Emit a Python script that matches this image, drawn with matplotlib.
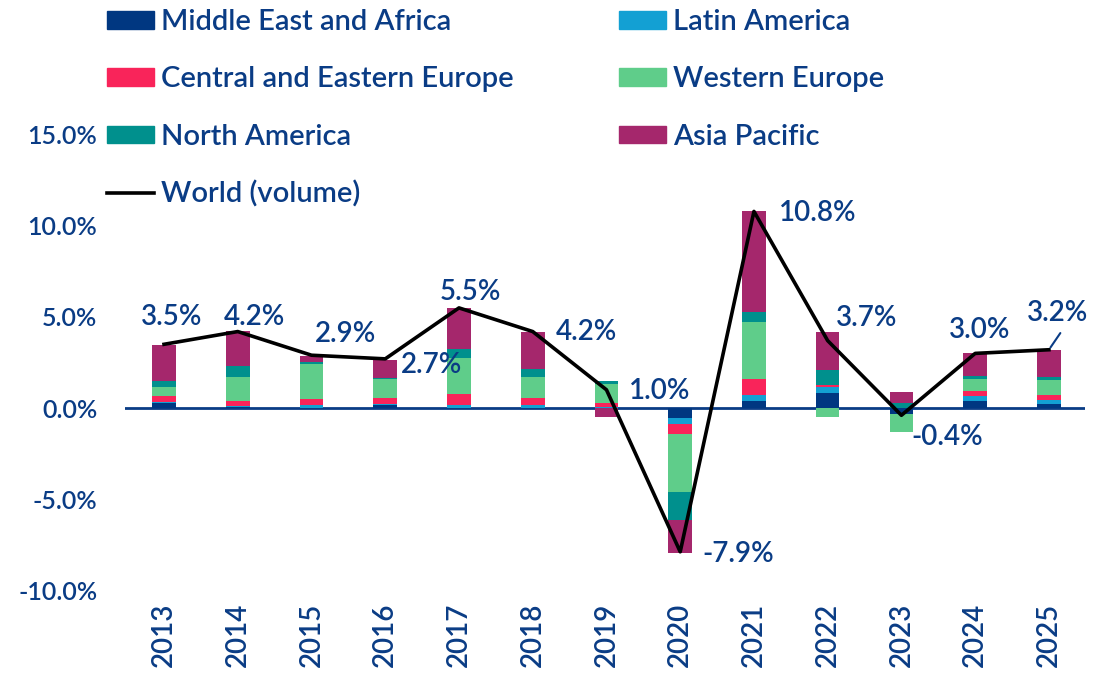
import matplotlib.pyplot as plt
import numpy as np
from matplotlib.patches import Patch
from matplotlib.lines import Line2D

years = ['2013', '2014', '2015', '2016', '2017', '2018', '2019',
         '2020', '2021', '2022', '2023', '2024', '2025']

# contributions to world growth, pp
mea   = [0.29, 0.05, 0.00, 0.18, 0.00, 0.00, 0.00, -0.53, 0.37, 0.82, -0.35, 0.37, 0.24]
latam = [0.05, 0.05, 0.15, 0.05, 0.15, 0.15, 0.03, -0.37, 0.35, 0.33, 0.00, 0.27, 0.22]
cee   = [0.31, 0.27, 0.35, 0.33, 0.62, 0.42, 0.27, -0.55, 0.88, 0.11, 0.00, 0.31, 0.26]
weu   = [0.48, 1.36, 1.94, 1.04, 2.00, 1.15, 1.00, -3.17, 3.10, -0.49, -0.95, 0.66, 0.84]
nam   = [0.35, 0.60, 0.11, 0.05, 0.46, 0.40, 0.18, -1.56, 0.60, 0.84, 0.25, 0.13, 0.13]
apac  = [1.98, 1.89, 0.31, 1.00, 2.29, 2.07, -0.49, -1.76, 5.50, 2.07, 0.65, 1.28, 1.52]
world = [3.5, 4.2, 2.9, 2.7, 5.5, 4.2, 1.0, -7.9, 10.8, 3.7, -0.4, 3.0, 3.2]

names = ['Middle East and Africa', 'Latin America', 'Central and Eastern Europe',
         'Western Europe', 'North America', 'Asia Pacific']
colors = ['#003781', '#13A0D3', '#F9245A', '#5FCD8A', '#00908D', '#A5276C']
navy = '#0A3C85'

plt.rcParams['font.family'] = ['Lato', 'DejaVu Sans']
plt.rcParams['font.weight'] = 'semibold'

fig = plt.figure(figsize=(10.96, 6.81), dpi=100)
ax = fig.add_axes([0.114, 0.1336, 0.876, 0.6682])

x = np.arange(len(years))
pos_base = np.zeros(len(years))
neg_base = np.zeros(len(years))
for vals, c in zip([mea, latam, cee, weu, nam, apac], colors):
    v = np.array(vals)
    base = np.where(v >= 0, pos_base, neg_base)
    ax.bar(x, v, 0.32, bottom=base, color=c, zorder=2)
    pos_base = pos_base + np.where(v >= 0, v, 0)
    neg_base = neg_base + np.where(v < 0, v, 0)

ax.axhline(0, color=navy, lw=2, zorder=1)
ax.plot(x, world, color='black', lw=2.6, zorder=3)

# label offsets in pixels (dx, dy)
offs = [(8, 27), (17, 15), (34, 21), (46, -6), (11, 16), (54, 0), (53, -1),
        (58, -2), (64, -2), (39, 23), (46, -22), (4, 23), (9, 37)]
for i, (w, (dx, dy)) in enumerate(zip(world, offs)):
    ax.annotate(f'{w:.1f}%', (x[i], w), xytext=(dx, dy), textcoords='offset pixels',
                ha='center', va='center', color=navy, fontsize=20, zorder=4)
# leader line for last label
ax.annotate('', (x[-1], world[-1]), xytext=(13, 19), textcoords='offset pixels',
            arrowprops=dict(arrowstyle='-', color=navy, lw=1.5))

ax.set_xlim(-0.53, 12.49)
ax.set_ylim(-10, 15)
ax.set_yticks([-10, -5, 0, 5, 10, 15])
ax.set_yticklabels([f'{t:.1f}%' for t in [-10, -5, 0, 5, 10, 15]])
ax.set_xticks(x)
ax.set_xticklabels(years, rotation=90)
ax.tick_params(axis='y', length=0, pad=20, labelsize=18, labelcolor=navy)
ax.tick_params(axis='x', length=0, pad=9, labelsize=20, labelcolor=navy)
for s in ax.spines.values():
    s.set_visible(False)

handles = [Patch(color=c) for c in colors]
h = [handles[0], handles[2], handles[4], Line2D([], [], color='black', lw=2.6),
     handles[1], handles[3], handles[5]]
l = [names[0], names[2], names[4], 'World (volume)', names[1], names[3], names[5]]
fig.legend(h, l, ncol=2, loc='upper left', bbox_to_anchor=(0.074, 1.025),
           frameon=False, fontsize=21, labelcolor=navy, handlelength=1.6,
           handleheight=0.55, handletextpad=0.25, columnspacing=3.6,
           labelspacing=1.07)

fig.savefig('out.png', dpi=100)
